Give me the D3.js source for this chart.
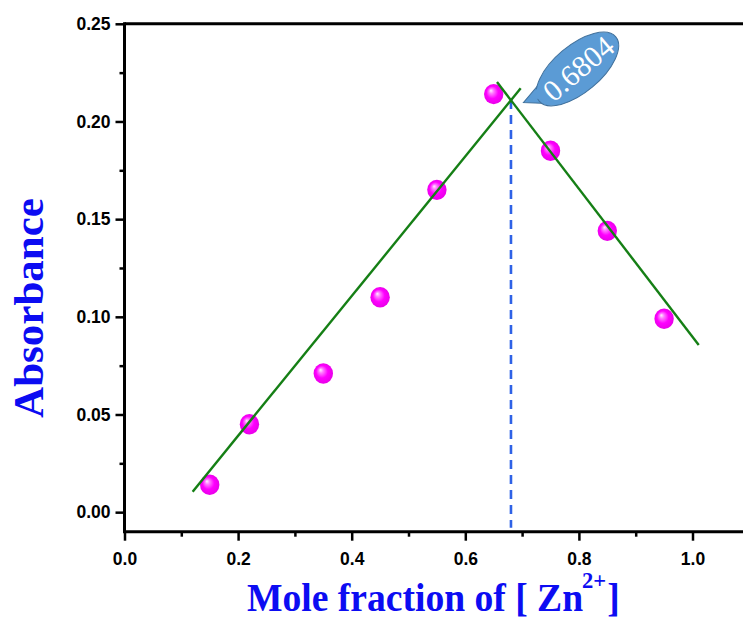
<!DOCTYPE html>
<html>
<head>
<meta charset="utf-8">
<script src="https://cdn.jsdelivr.net/npm/d3@7"></script>
<style>
  html, body { margin: 0; padding: 0; background: #fff; }
  svg { display: block; }
</style>
</head>
<body>
<svg id="chart" width="743" height="623"></svg>
<script>
// Job's plot: absorbance vs mole fraction of Zn2+
const moleFraction = [0.15, 0.22, 0.35, 0.45, 0.55, 0.65, 0.75, 0.85, 0.95];
const absorbance   = [0.014, 0.045, 0.071, 0.110, 0.165, 0.214, 0.185, 0.144, 0.099];

// Linear fits of the rising and falling branches (end points)
const risingFit  = [[0.12, 0.0105], [0.6975, 0.217]];
const fallingFit = [[0.6558, 0.2202], [1.011, 0.0856]];

// Intersection of the two fits
const stoichX = 0.6804;
const stoichY = 0.211;
const stoichLabel = "0.6804";

const xMajorTicks = [0.0, 0.2, 0.4, 0.6, 0.8, 1.0];
const xMinorTicks = [0.1, 0.3, 0.5, 0.7, 0.9, 1.1];
const yMajorTicks = [0.00, 0.05, 0.10, 0.15, 0.20, 0.25];
const yMinorTicks = [0.025, 0.075, 0.125, 0.175, 0.225];

const svg = d3.select("#chart");
const W = 743, H = 623;

const x = d3.scaleLinear().domain([0, 1.1]).range([124.5, 124.5 + 1.1 * 568]);
const y = d3.scaleLinear().domain([-0.01, 0.25]).range([531.7, 23.8]);

const defs = svg.append("defs");
const grad = defs.append("radialGradient").attr("id", "ball")
  .attr("cx", "50%").attr("cy", "50%").attr("r", "55%")
  .attr("fx", "35%").attr("fy", "32%");
grad.append("stop").attr("offset", "0%").attr("stop-color", "#fff0ff");
grad.append("stop").attr("offset", "22%").attr("stop-color", "#ff7aff");
grad.append("stop").attr("offset", "55%").attr("stop-color", "#ff00ff");
grad.append("stop").attr("offset", "100%").attr("stop-color", "#e400e4");

const tickFont = "'Liberation Sans', Arial, sans-serif";
const titleFont = "'Liberation Serif', 'Times New Roman', serif";

// Axes
const xAxis = d3.axisBottom(x).tickValues(xMajorTicks).tickSize(9).tickPadding(12)
  .tickFormat(d3.format(".1f"));
const xMinor = d3.axisBottom(x).tickValues(xMinorTicks).tickSize(5).tickFormat("");
const yAxis = d3.axisLeft(y).tickValues(yMajorTicks).tickSize(9).tickPadding(5)
  .tickFormat(d3.format(".2f"));
const yMinor = d3.axisLeft(y).tickValues(yMinorTicks).tickSize(5).tickFormat("");

function styleAxis(g) {
  g.select(".domain").remove();
  g.selectAll(".tick line").attr("stroke", "#000").attr("stroke-width", 2.5);
  g.selectAll(".tick text").attr("fill", "#000")
    .style("font-family", tickFont).style("font-weight", "bold").style("font-size", "17.5px");
}

svg.append("g").attr("transform", `translate(0,${y(-0.01)})`).call(xAxis).call(styleAxis);
svg.append("g").attr("transform", `translate(0,${y(-0.01)})`).call(xMinor).call(styleAxis);
svg.append("g").attr("transform", `translate(${x(0)},0)`).call(yAxis).call(styleAxis);
svg.append("g").attr("transform", `translate(${x(0)},0)`).call(yMinor).call(styleAxis);

// Frame lines (left, bottom, top)
const frame = svg.append("g").attr("stroke", "#000").attr("stroke-width", 3).attr("fill", "none");
frame.append("line").attr("x1", x(0)).attr("x2", x(0)).attr("y1", y(0.25) - 1.5).attr("y2", y(-0.01) + 1.5);
frame.append("line").attr("x1", x(0)).attr("x2", W).attr("y1", y(-0.01)).attr("y2", y(-0.01));
frame.append("line").attr("x1", x(0)).attr("x2", W).attr("y1", y(0.25)).attr("y2", y(0.25));

// Dashed line at the stoichiometric mole fraction
svg.append("line")
  .attr("x1", x(stoichX)).attr("x2", x(stoichX))
  .attr("y1", y(stoichY)).attr("y2", y(-0.01) - 4)
  .attr("stroke", "#2f62e6").attr("stroke-width", 2.6)
  .attr("stroke-dasharray", "9,6");

// Data points
svg.append("g").selectAll("ellipse").data(moleFraction).join("ellipse")
  .attr("cx", (d) => x(d))
  .attr("cy", (d, i) => y(absorbance[i]))
  .attr("rx", 9.7).attr("ry", 10.2)
  .attr("fill", "url(#ball)");

// Fit lines
const line = d3.line().x((d) => x(d[0])).y((d) => y(d[1]));
[risingFit, fallingFit].forEach((seg) => {
  svg.append("path").attr("d", line(seg))
    .attr("fill", "none").attr("stroke", "#157f15").attr("stroke-width", 2.4);
});

// Callout bubble with the intersection value
const tipX = x(stoichX) + 11, tipY = y(stoichY) + 1;
const callout = svg.append("g").attr("transform", `translate(${tipX + 55.5},${tipY - 32}) rotate(-40)`);
callout.append("path").attr("d", "M-63,-9 L-40,-13 L-41,11 Z")
  .attr("fill", "#5b9bd5").attr("stroke", "#41719c").attr("stroke-width", 1);
callout.append("ellipse").attr("rx", 50).attr("ry", 23.5)
  .attr("fill", "#5b9bd5").attr("stroke", "#41719c").attr("stroke-width", 1);
callout.append("path").attr("d", "M-55,-9 L-38,-12 L-39,10 Z").attr("fill", "#5b9bd5");
callout.append("text").text(stoichLabel)
  .attr("x", 1).attr("y", 10.5)
  .attr("text-anchor", "middle")
  .attr("fill", "#fff")
  .style("font-family", titleFont).style("font-size", "30px");

// Axis titles
svg.append("text")
  .attr("transform", "translate(43,308) rotate(-90)")
  .attr("text-anchor", "middle")
  .attr("fill", "#0c0cf2")
  .style("font-family", titleFont).style("font-weight", "bold").style("font-size", "43px")
  .text("Absorbance");

const xt = svg.append("text")
  .attr("transform", "translate(247,611) scale(0.94,1)")
  .attr("fill", "#0c0cf2")
  .style("font-family", titleFont).style("font-weight", "bold").style("font-size", "40px");
xt.append("tspan").text("Mole fraction of [ Zn");
xt.append("tspan").attr("dy", -23).attr("dx", -1).style("font-size", "24px").style("font-weight", "bold").text("2+");
xt.append("tspan").attr("dy", 23).attr("dx", 1).text("]");
</script>
</body>
</html>
